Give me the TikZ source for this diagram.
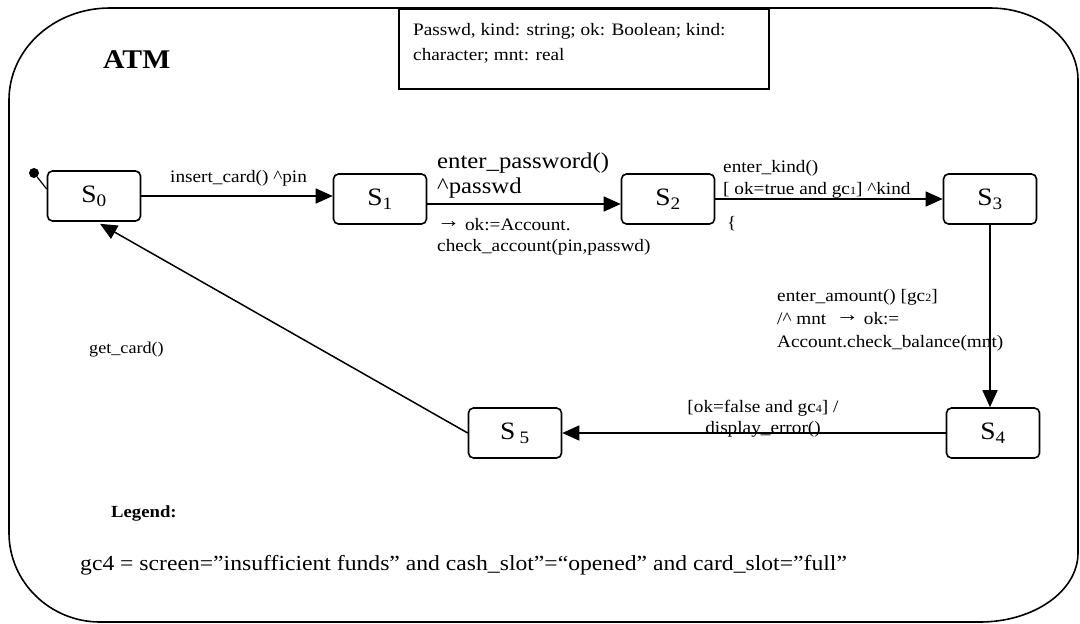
\documentclass[tikz,border=0pt]{standalone}
\usepackage{fontspec}
\setmainfont[FakeStretch=1.1]{Liberation Serif}
\usetikzlibrary{arrows.meta}
\newcommand{\smalldigit}[1]{{\fontsize{11}{11}\selectfont #1}}
\newcommand{\upto}{\raisebox{3pt}{\fontsize{21}{21}\selectfont →}}
\begin{document}
\begin{tikzpicture}[x=1pt,y=-1pt,
  state/.style={draw, line width=1.6pt, rounded corners=5pt, minimum width=93pt,
    minimum height=50pt, inner sep=0pt, font=\fontsize{25}{25}\selectfont},
  trans/.style={line width=1.5pt, -{Triangle[length=17pt,width=15pt]}},
  % multi-line labels are anchored at the baseline of their last line
  lbl/.style={inner sep=0pt, anchor=base west, align=left, font=\fontsize{17.5}{23}\selectfont},
  biglbl/.style={lbl, font=\fontsize{22.5}{25}\selectfont},
  heading/.style={inner sep=0pt, anchor=base west, font=\bfseries\fontsize{27}{27}\selectfont}]
\useasboundingbox (0,0) rectangle (1080,624);

% outer ATM superstate
\draw[line width=1.6pt] (110,8) -- (990,8)
  .. controls (1039,8) and (1078,40) .. (1078,80) -- (1078,553)
  .. controls (1078,591) and (1034,622) .. (980,622) -- (100,622)
  .. controls (50,622) and (9,582) .. (9,533) -- (9,100)
  .. controls (9,49) and (54,8) .. (110,8) -- cycle;
\node[heading] (title) at (103,68) {ATM};

% variable declarations
\node[draw, line width=1.6pt, anchor=north west, minimum width=370pt, minimum height=80pt, inner sep=0pt] (vars) at (398,8) {};
\node[lbl, font=\fontsize{17.5}{25}\selectfont] (varstext) at (413,60) {Passwd, kind: string; ok: Boolean; kind:\\character; mnt: real};

% states
\node[state] (s0) at (94,196) {S\textsubscript{0}};
\node[state] (s1) at (380,199) {S\textsubscript{1}};
\node[state] (s2) at (668,199) {S\textsubscript{2}};
\node[state] (s3) at (990,199) {S\textsubscript{3}};
\node[state] (s4) at (993,433) {S\textsubscript{4}};
\node[state] (s5) at (515,433) {S\,\textsubscript{5}};

% initial pseudo-state
\node[circle, fill, inner sep=0pt, minimum size=10pt] (init) at (34,173) {};
\draw[line width=1.2pt] (init) -- ([yshift=7pt]s0.west);

% transitions
\draw[trans] (s0.east) -- (s1.west |- s0.east);
\draw[trans] ([yshift=-5pt]s1.east) -- ([yshift=-5pt]s2.west);
\draw[trans] (s2.east) -- (s3.west);
\draw[trans] (s3.south) -- (s3.south |- s4.north);
\draw[trans] (s4.west) -- (s5.east);
\draw[trans] (s5.west) -- ([xshift=6pt,yshift=-2pt]s0.south);

% transition labels
\node[lbl] (l01) at (170,182) {insert\_card() \textasciicircum pin};
\node[biglbl] (l12a) at (437,193) {enter\_password()\\\textasciicircum passwd};
\node[lbl, font=\fontsize{17.5}{21}\selectfont] (l12b) at (437,251) {\upto{} ok:=Account.\\check\_account(pin,passwd)};
\node[lbl, font=\fontsize{17.5}{22}\selectfont] (l23) at (723,194) {enter\_kind()\\{[} ok=true and gc\smalldigit{1}] \textasciicircum kind};
\node[lbl] (brace) at (727,228) {\{};
\node[lbl] (l34) at (777,347) {enter\_amount() [gc\smalldigit{2}]\\/\textasciicircum{} mnt\ \ \upto{} ok:=\\Account.check\_balance(mnt)};
\node[lbl, anchor=base, align=center, font=\fontsize{17.5}{21}\selectfont] (l45) at (763,433) {[ok=false and gc\smalldigit{4}] /\\display\_error()};
\node[lbl, font=\fontsize{16.5}{20}\selectfont] (l50) at (89,353) {get\_card()};

% legend
\node[heading, font=\bfseries\fontsize{17}{17}\selectfont] (legend) at (111,517) {Legend:};
\node[lbl, font=\fontsize{21.5}{24}\selectfont] (gc4) at (80,570) {gc4 = screen=”insufficient funds” and cash\_slot”=“opened” and card\_slot=”full”};
\end{tikzpicture}
\end{document}
